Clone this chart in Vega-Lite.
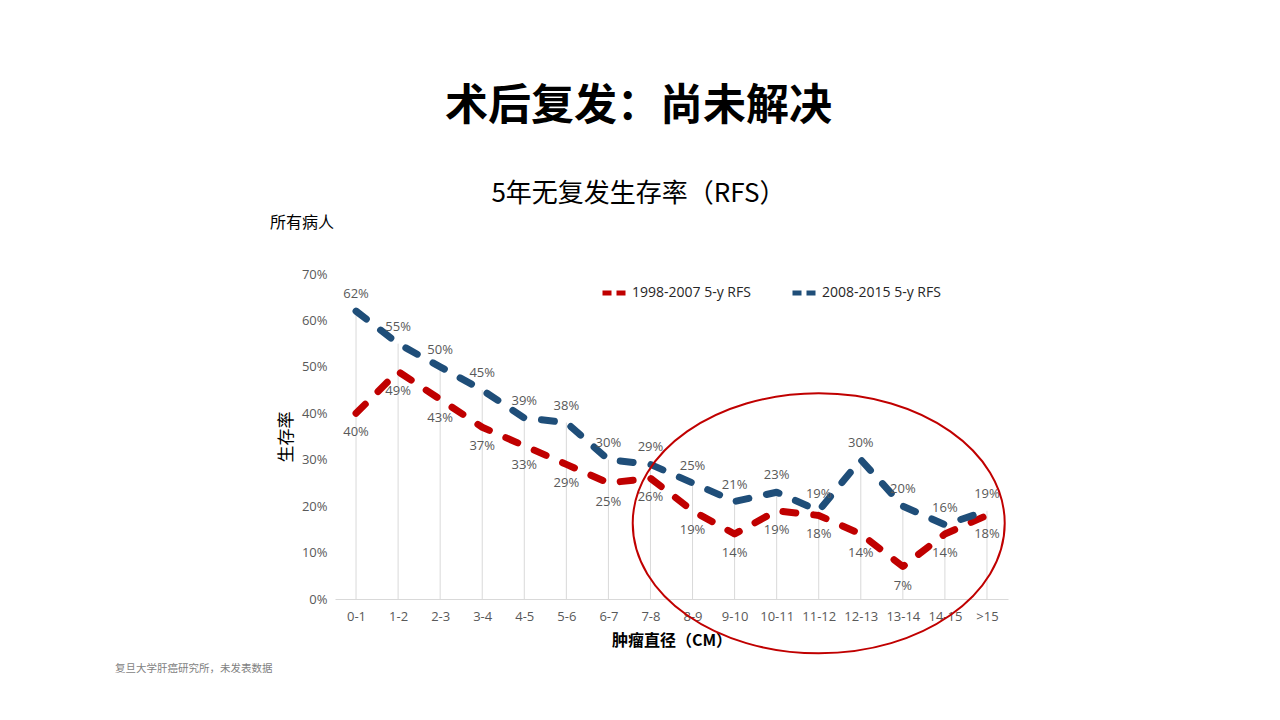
{
  "$schema": "https://vega.github.io/schema/vega-lite/v6.json",
  "autosize": "none",
  "width": 673,
  "height": 325,
  "padding": {"left": 335, "top": 274, "right": 272, "bottom": 121},
  "background": "white",
  "config": {
    "view": {"stroke": null},
    "font": "Open Sans, Noto Sans CJK SC"
  },
  "title": {
    "text": "术后复发：尚未解决",
    "subtitle": "5年无复发生存率（RFS）",
    "font": "Noto Sans CJK SC",
    "fontSize": 43,
    "fontWeight": "bold",
    "color": "#000000",
    "subtitleFont": "Noto Sans CJK SC",
    "subtitleFontSize": 26,
    "subtitleColor": "#000000",
    "subtitlePadding": 52,
    "anchor": "middle",
    "dx": -33,
    "offset": 8
  },
  "datasets": {
    "rfs": [
      {"size": "0-1", "series": "1998-2007 5-y RFS", "rate": 0.40},
      {"size": "1-2", "series": "1998-2007 5-y RFS", "rate": 0.49},
      {"size": "2-3", "series": "1998-2007 5-y RFS", "rate": 0.43},
      {"size": "3-4", "series": "1998-2007 5-y RFS", "rate": 0.37},
      {"size": "4-5", "series": "1998-2007 5-y RFS", "rate": 0.33},
      {"size": "5-6", "series": "1998-2007 5-y RFS", "rate": 0.29},
      {"size": "6-7", "series": "1998-2007 5-y RFS", "rate": 0.25},
      {"size": "7-8", "series": "1998-2007 5-y RFS", "rate": 0.26},
      {"size": "8-9", "series": "1998-2007 5-y RFS", "rate": 0.19},
      {"size": "9-10", "series": "1998-2007 5-y RFS", "rate": 0.14},
      {"size": "10-11", "series": "1998-2007 5-y RFS", "rate": 0.19},
      {"size": "11-12", "series": "1998-2007 5-y RFS", "rate": 0.18},
      {"size": "12-13", "series": "1998-2007 5-y RFS", "rate": 0.14},
      {"size": "13-14", "series": "1998-2007 5-y RFS", "rate": 0.07},
      {"size": "14-15", "series": "1998-2007 5-y RFS", "rate": 0.14},
      {"size": ">15", "series": "1998-2007 5-y RFS", "rate": 0.18},
      {"size": "0-1", "series": "2008-2015 5-y RFS", "rate": 0.62},
      {"size": "1-2", "series": "2008-2015 5-y RFS", "rate": 0.55},
      {"size": "2-3", "series": "2008-2015 5-y RFS", "rate": 0.50},
      {"size": "3-4", "series": "2008-2015 5-y RFS", "rate": 0.45},
      {"size": "4-5", "series": "2008-2015 5-y RFS", "rate": 0.39},
      {"size": "5-6", "series": "2008-2015 5-y RFS", "rate": 0.38},
      {"size": "6-7", "series": "2008-2015 5-y RFS", "rate": 0.30},
      {"size": "7-8", "series": "2008-2015 5-y RFS", "rate": 0.29},
      {"size": "8-9", "series": "2008-2015 5-y RFS", "rate": 0.25},
      {"size": "9-10", "series": "2008-2015 5-y RFS", "rate": 0.21},
      {"size": "10-11", "series": "2008-2015 5-y RFS", "rate": 0.23},
      {"size": "11-12", "series": "2008-2015 5-y RFS", "rate": 0.19},
      {"size": "12-13", "series": "2008-2015 5-y RFS", "rate": 0.30},
      {"size": "13-14", "series": "2008-2015 5-y RFS", "rate": 0.20},
      {"size": "14-15", "series": "2008-2015 5-y RFS", "rate": 0.16},
      {"size": ">15", "series": "2008-2015 5-y RFS", "rate": 0.19}
    ],
    "notes": [
      {"note": "所有病人"}
    ],
    "footnote": [
      {"note": "复旦大学肝癌研究所，未发表数据"}
    ],
    "circle": [
      {"note": "9-15 cm"}
    ]
  },
  "layer": [
    {
      "data": {"name": "rfs"},
      "transform": [
        {"aggregate": [{"op": "max", "field": "rate", "as": "top"}], "groupby": ["size"]}
      ],
      "mark": {"type": "rule", "color": "#D9D9D9", "strokeWidth": 1},
      "encoding": {
        "x": {
          "field": "size",
          "type": "ordinal",
          "scale": {
            "type": "point",
            "padding": 0.5,
            "domain": ["0-1", "1-2", "2-3", "3-4", "4-5", "5-6", "6-7", "7-8", "8-9", "9-10", "10-11", "11-12", "12-13", "13-14", "14-15", ">15"]
          },
          "axis": {
            "title": "肿瘤直径（CM）",
            "titleFont": "Noto Sans CJK SC",
            "titleFontSize": 16,
            "titleFontWeight": "bold",
            "titleColor": "#000000",
            "titlePadding": 9,
            "labelAngle": 0,
            "labelFontSize": 13,
            "labelColor": "#595959",
            "labelPadding": 11,
            "ticks": false,
            "grid": false,
            "domainColor": "#D9D9D9"
          }
        },
        "y": {
          "field": "top",
          "type": "quantitative",
          "scale": {"domain": [0, 0.7], "nice": false},
          "axis": {
            "title": "生存率",
            "titleFont": "Noto Sans CJK SC",
            "titleFontSize": 17,
            "titleFontWeight": "normal",
            "titleColor": "#000000",
            "titlePadding": 6,
            "format": ".0%",
            "values": [0, 0.1, 0.2, 0.3, 0.4, 0.5, 0.6, 0.7],
            "labelFontSize": 13,
            "labelColor": "#595959",
            "labelPadding": 8,
            "ticks": false,
            "grid": false,
            "domain": false
          }
        },
        "y2": {"datum": 0}
      }
    },
    {
      "data": {"name": "rfs"},
      "mark": {"type": "line", "strokeWidth": 7, "strokeDash": [13, 18], "strokeCap": "round", "strokeJoin": "round"},
      "encoding": {
        "x": {"field": "size", "type": "ordinal"},
        "y": {"field": "rate", "type": "quantitative"},
        "color": {
          "field": "series",
          "type": "nominal",
          "scale": {"domain": ["1998-2007 5-y RFS", "2008-2015 5-y RFS"], "range": ["#C00000", "#1F4E79"]},
          "legend": {
            "title": null,
            "orient": "none",
            "direction": "horizontal",
            "legendX": 265,
            "legendY": 4,
            "symbolType": "stroke",
            "symbolSize": 625,
            "symbolStrokeWidth": 5,
            "symbolDash": [9, 5],
            "labelFontSize": 14,
            "labelColor": "#262626",
            "labelOffset": 2,
            "columnPadding": 31
          }
        }
      }
    },
    {
      "data": {"name": "rfs"},
      "transform": [{"filter": "datum.series === '2008-2015 5-y RFS'"}],
      "mark": {"type": "text", "dy": -17, "fontSize": 13, "color": "#595959"},
      "encoding": {
        "x": {"field": "size", "type": "ordinal"},
        "y": {"field": "rate", "type": "quantitative"},
        "text": {"field": "rate", "type": "quantitative", "format": ".0%"}
      }
    },
    {
      "data": {"name": "rfs"},
      "transform": [{"filter": "datum.series === '1998-2007 5-y RFS'"}],
      "mark": {"type": "text", "dy": 19, "fontSize": 13, "color": "#595959"},
      "encoding": {
        "x": {"field": "size", "type": "ordinal"},
        "y": {"field": "rate", "type": "quantitative"},
        "text": {"field": "rate", "type": "quantitative", "format": ".0%"}
      }
    },
    {
      "data": {"name": "circle"},
      "mark": {
        "type": "point",
        "shape": "M -1 0 C -1 -0.386 -0.5523 -0.699 0 -0.699 C 0.5523 -0.699 1 -0.386 1 0 C 1 0.386 0.5523 0.699 0 0.699 C -0.5523 0.699 -1 0.386 -1 0 Z",
        "filled": false,
        "stroke": "#C00000",
        "strokeWidth": 2,
        "opacity": 1,
        "size": 138384
      },
      "encoding": {
        "x": {"datum": "11-12"},
        "y": {"datum": 0.163}
      }
    },
    {
      "data": {"name": "notes"},
      "mark": {"type": "text", "align": "left", "baseline": "middle", "dx": -86, "dy": -5, "fontSize": 16, "color": "#000000", "font": "Noto Sans CJK SC"},
      "encoding": {
        "x": {"datum": "0-1"},
        "y": {"datum": 0.8},
        "text": {"field": "note"}
      }
    },
    {
      "data": {"name": "footnote"},
      "mark": {"type": "text", "align": "left", "baseline": "middle", "dx": -241, "fontSize": 10.5, "color": "#7F7F7F", "font": "Noto Sans CJK SC"},
      "encoding": {
        "x": {"datum": "0-1"},
        "y": {"datum": -0.15},
        "text": {"field": "note"}
      }
    }
  ]
}
